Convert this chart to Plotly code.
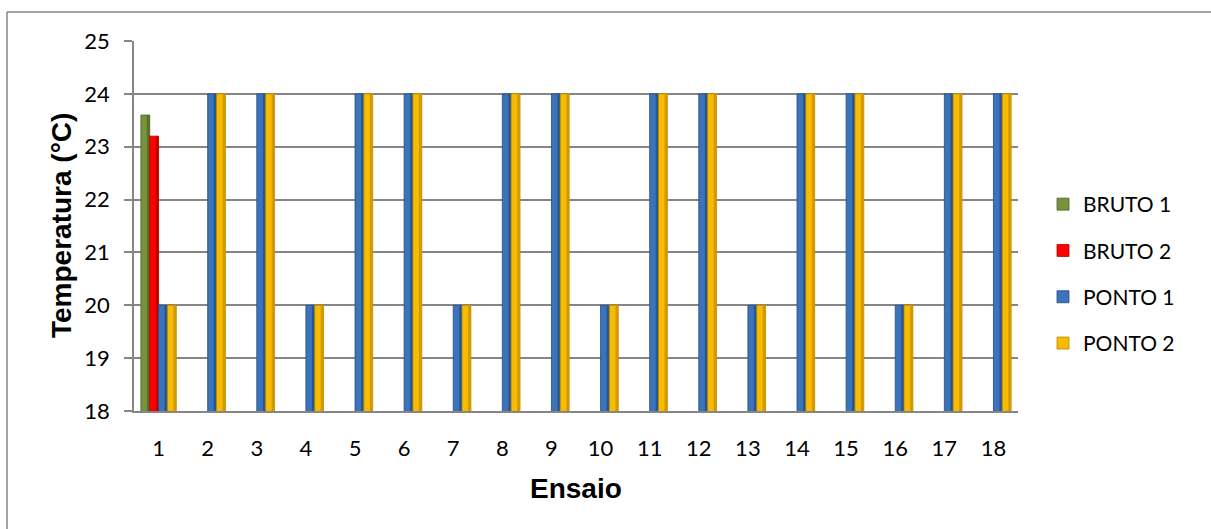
import plotly.graph_objects as go

# --- data -------------------------------------------------------------
ensaios = [str(i) for i in range(1, 19)]
bruto1 = [23.6] + [None] * 17
bruto2 = [23.2] + [None] * 17
ponto1 = [20, 24, 24, 20, 24, 24, 20, 24, 24, 20, 24, 24, 20, 24, 24, 20, 24, 24]
ponto2 = [20, 24, 24, 20, 24, 24, 20, 24, 24, 20, 24, 24, 20, 24, 24, 20, 24, 24]
series_names = ["BRUTO 1", "BRUTO 2", "PONTO 1", "PONTO 2"]
y_ticks = [18, 19, 20, 21, 22, 23, 24, 25]

# --- geometry ---------------------------------------------------------
W, H = 1211, 529
ML, MR, MT, MB = 134, 193, 41, 118
PW, PH = W - ML - MR, H - MT - MB


def px(x):
    return (x - ML) / PW


def py(y):
    return 1 - (y - MT) / PH


GRID = "#868686"
TICK_FONT = dict(family="Lato, Carlito, sans-serif", size=22, color="#000000")
TITLE_FONT = dict(family="Liberation Sans, Arial, sans-serif", size=28, color="#000000")

styles = [
    dict(fill="#77933C", edge="#55702A", line="#4F6228"),
    dict(fill="#FF0000", edge="#C80000", line="#B00000"),
    dict(fill="#3C74BC", edge="#2A568F", line="#244C80"),
    dict(fill="#F7BC00", edge="#D29A00", line="#B98800"),
]

bar_w = 0.18
offsets = [-2 * bar_w, -bar_w, 0.0, bar_w]

fig = go.Figure()
for name, vals, st, off in zip(series_names, [bruto1, bruto2, ponto1, ponto2], styles, offsets):
    fig.add_trace(go.Bar(
        x=ensaios, y=vals, name=name, legendgroup=name,
        offset=off, width=bar_w,
        marker=dict(color=st["fill"], line=dict(color=st["line"], width=0.8)),
        hoverinfo="x+y+name",
    ))
    # darker right-hand face of each bar for a bevelled look
    fig.add_trace(go.Bar(
        x=ensaios, y=vals, name=name, legendgroup=name, showlegend=False,
        offset=off + bar_w * 0.68, width=bar_w * 0.32,
        marker=dict(color=st["edge"], line=dict(width=0)),
        hoverinfo="skip",
    ))

fig.update_layout(
    width=W, height=H,
    margin=dict(l=ML, r=MR, t=MT, b=MB, autoexpand=False),
    paper_bgcolor="white", plot_bgcolor="white",
    barmode="overlay",
    showlegend=True,
    legend=dict(
        x=px(1043), xanchor="left", y=py(274), yanchor="middle",
        font=dict(family="Lato, Carlito, sans-serif", size=21, color="#000000"),
        tracegroupgap=16, bgcolor="rgba(0,0,0,0)",
    ),
    xaxis=dict(
        type="category", range=[-0.5, 17.5],
        showgrid=False, showline=True, linecolor=GRID, linewidth=1.5,
        ticks="", tickfont=TICK_FONT, ticklabelstandoff=17,
    ),
    yaxis=dict(
        range=[18, 25], tickvals=y_ticks, ticktext=[str(v) for v in y_ticks],
        showgrid=True, gridcolor=GRID, gridwidth=1.5,
        showline=True, linecolor=GRID, linewidth=1.5,
        ticks="outside", ticklen=8, tickcolor=GRID, tickwidth=1.5,
        tickfont=TICK_FONT, ticklabelstandoff=10, zeroline=False,
    ),
    annotations=[
        dict(text="<b>Temperatura (°C)</b>", textangle=-90, showarrow=False,
             xref="paper", yref="paper", x=px(61), y=py(226),
             xanchor="center", yanchor="middle", font=TITLE_FONT),
        dict(text="<b>Ensaio</b>", showarrow=False,
             xref="paper", yref="paper", x=0.5, y=py(488),
             xanchor="center", yanchor="middle", font=TITLE_FONT),
    ],
    shapes=[
        # chart frame (top and left edges)
        dict(type="line", xref="paper", yref="paper", x0=px(7), x1=px(W + 5),
             y0=py(12), y1=py(12), line=dict(color=GRID, width=1.5)),
        dict(type="line", xref="paper", yref="paper", x0=px(7), x1=px(7),
             y0=py(12), y1=py(H + 5), line=dict(color=GRID, width=1.5)),
    ],
)

fig.write_html("out.html")
